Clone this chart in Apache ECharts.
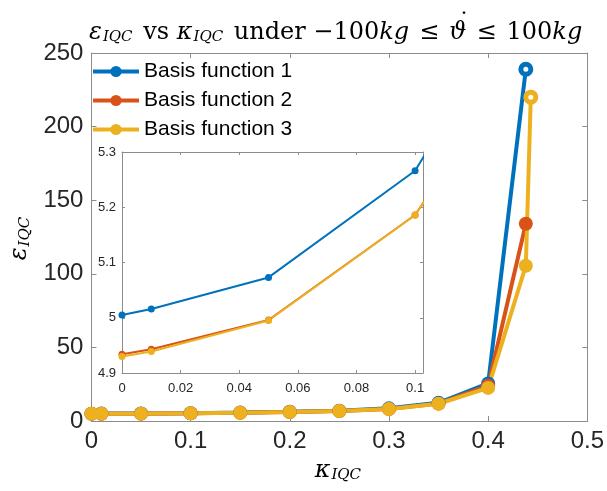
<!DOCTYPE html>
<html lang="en">
<head>
    <meta charset="UTF-8">
    <title>eps vs kappa</title>
    <script src="https://cdn.jsdelivr.net/npm/echarts@6/dist/echarts.min.js"></script>
    <style>
        html, body { margin: 0; padding: 0; background: #fff; }
        #chart { width: 607px; height: 491px; }
    </style>
</head>
<body>
<div id="chart"></div>
<script>
    // kappa values (x) and epsilon values (y)
    var kappa = [0, 0.01, 0.05, 0.1, 0.15, 0.2, 0.25, 0.3, 0.35, 0.4, 0.438];
    var kappa3 = [0, 0.01, 0.05, 0.1, 0.15, 0.2, 0.25, 0.3, 0.35, 0.4, 0.438, 0.443];
    var basis1 = [5.005, 5.016, 5.073, 5.266, 5.70, 6.3, 7.0, 8.6, 12.4, 25.5, 239];
    var basis2 = [4.934, 4.943, 4.996, 5.186, 5.58, 6.1, 6.8, 8.2, 11.8, 24.0, 134];
    var basis3 = [4.930, 4.939, 4.995, 5.186, 5.57, 6.1, 6.8, 8.1, 11.7, 22.5, 105.5, 220];
    var names = ['Basis function 1', 'Basis function 2', 'Basis function 3'];
    var colors = ['#0072BD', '#D95319', '#EDB120'];

    function pairs(xs, ys) {
        var out = [];
        for (var i = 0; i < ys.length; i++) out.push([xs[i], ys[i]]);
        return out;
    }

    var axisGray = '#8c8c8c';
    var serif = 'DejaVu Serif';
    var sub = { fontFamily: serif, fontStyle: 'italic', fontWeight: 'normal', fontSize: 15, padding: [10, 3, 0, 1], color: '#000' };
    var ita = { fontFamily: serif, fontStyle: 'italic', fontWeight: 'normal', fontSize: 24, color: '#000' };
    var rom = { fontFamily: serif, fontWeight: 'normal', fontSize: 24, color: '#000' };
    var rel = { fontFamily: serif, fontWeight: 'normal', fontSize: 24, color: '#000', padding: [0, 10, 0, 10] };

    function boxAxis(type, grid, pos, min, max, interval, showLabel, labelSize, tickLen) {
        return {
            type: 'value', gridIndex: grid, position: pos,
            min: min, max: max, interval: interval,
            axisLine: { show: true, onZero: false, lineStyle: { color: axisGray, width: 1 } },
            axisTick: { show: true, inside: true, length: tickLen, lineStyle: { color: axisGray } },
            splitLine: { show: false },
            axisLabel: {
                show: showLabel, color: '#262626', fontFamily: 'Liberation Sans',
                fontSize: labelSize, margin: labelSize > 16 ? 8 : (type === 'x' ? 9 : 6),
                formatter: function (v) { return +v.toFixed(2) + ''; }
            }
        };
    }

    var xAxes = [
        boxAxis('x', 0, 'bottom', 0, 0.5, 0.1, true, 24, 5),
        boxAxis('x', 0, 'top', 0, 0.5, 0.1, false, 24, 5),
        boxAxis('x', 1, 'bottom', 0, 0.1027, 0.02, true, 13, 3),
        boxAxis('x', 1, 'top', 0, 0.1027, 0.02, false, 13, 3)
    ];
    xAxes[0].name = '{e|κ}{s|IQC}';
    xAxes[0].nameLocation = 'middle';
    xAxes[0].nameGap = 37;
    xAxes[0].nameTextStyle = { rich: { e: ita, s: sub } };

    var yAxes = [
        boxAxis('y', 0, 'left', 0, 250, 50, true, 24, 5),
        boxAxis('y', 0, 'right', 0, 250, 50, false, 24, 5),
        boxAxis('y', 1, 'left', 4.9, 5.3, 0.1, true, 13, 3),
        boxAxis('y', 1, 'right', 4.9, 5.3, 0.1, false, 13, 3)
    ];
    yAxes[0].name = '{e|ε}{s|IQC}';
    yAxes[0].nameLocation = 'middle';
    yAxes[0].nameRotate = 90;
    yAxes[0].nameGap = 50;
    yAxes[0].nameTextStyle = { rich: { e: ita, s: sub } };

    var mainData = [pairs(kappa, basis1), pairs(kappa, basis2), pairs(kappa3, basis3)];
    var series = [];
    for (var i = 0; i < 3; i++) {
        var d = mainData[i].map(function (p, j, arr) {
            // the topmost points of series 1 and 3 are drawn as rings
            if ((i === 0 || i === 2) && j === arr.length - 1) {
                return { value: p, symbolSize: 10, itemStyle: { color: '#fff', borderColor: colors[i], borderWidth: 5 } };
            }
            return p;
        });
        series.push({
            name: names[i], type: 'line', xAxisIndex: 0, yAxisIndex: 0,
            data: d, symbol: 'circle', symbolSize: 14,
            lineStyle: { color: colors[i], width: 4 },
            itemStyle: { color: colors[i] },
            emphasis: { disabled: true }, animation: false
        });
    }
    for (var k = 0; k < 3; k++) {
        series.push({
            name: names[k], type: 'line', xAxisIndex: 2, yAxisIndex: 2,
            data: mainData[k], symbol: 'circle', symbolSize: 7, clip: true,
            lineStyle: { color: colors[k], width: 2 },
            itemStyle: { color: colors[k] },
            emphasis: { disabled: true }, animation: false
        });
    }

    var myChart = echarts.init(document.getElementById('chart'), null, { renderer: 'canvas' });
    var option = {
        backgroundColor: '#fff',
        animation: false,
        title: {
            text: '{e|ε}{s|IQC}{r| vs }{e|κ}{s|IQC}{r| under −100}{e|kg}{q|≤}{e|ϑ}{q|≤}{r|100}{e|kg}',
            left: 84, top: 15,
            textStyle: { fontWeight: 'normal', rich: { e: ita, s: sub, r: rom, q: rel } }
        },
        // dot accent over the theta in the title
        graphic: [{
            type: 'text', left: 458, top: 12, silent: true,
            style: { text: '˙', font: '24px "DejaVu Serif"', fill: '#000' }
        }],
        legend: {
            data: names, orient: 'vertical', left: 86, top: 56,
            itemWidth: 46, itemHeight: 14, itemGap: 8,
            textStyle: { fontFamily: 'Liberation Sans', fontSize: 21, color: '#000' },
            lineStyle: { width: 4 },
            itemStyle: { borderWidth: 0 }
        },
        grid: [
            { left: 88, right: 17, top: 53, bottom: 70 },
            { left: 122, right: 184, top: 152, bottom: 118, show: true, backgroundColor: '#fff', borderWidth: 0 }
        ],
        xAxis: xAxes,
        yAxis: yAxes,
        series: series
    };
    myChart.setOption(option);
</script>
</body>
</html>
